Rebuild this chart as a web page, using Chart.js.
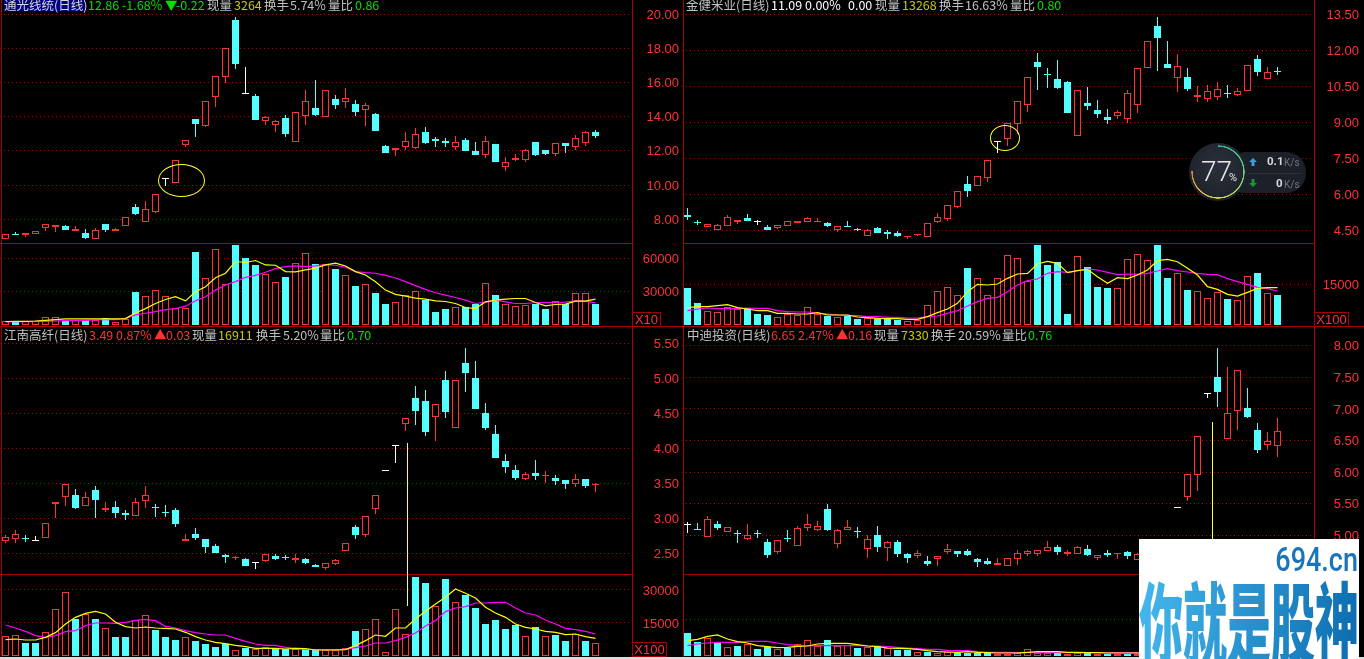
<!DOCTYPE html>
<html>
<head>
<meta charset="utf-8">
<script src="https://cdn.jsdelivr.net/npm/chart.js@4/dist/chart.umd.js"></script>
<style>
html, body { margin: 0; padding: 0; background: #000; width: 1364px; height: 659px; overflow: hidden; }
canvas { position: absolute; display: block; }
.line { position: absolute; background: #a80000; }
.hdr { position: absolute; font: 12.5px/13px "Noto Sans CJK SC", sans-serif; white-space: nowrap; }
.box { position: absolute; border: 1px solid #a80000; color: #ff3232; font: 13px/13px "Liberation Sans", sans-serif; box-sizing: border-box; text-align: center; }
.ring { position: absolute; border: 1px solid #ffff30; border-radius: 50%; box-sizing: border-box; }
.mark { position: absolute; width: 1px; background: #ffff40; }
</style>
</head>
<body>
<script>
// colours used by the trading screen
const RED = '#ff3232', CYAN = '#54ffff', WHITE = '#ffffff', YELLOW = '#ffff00', PINK = '#ff00ff';
const GRID = '#c00000', GRAY = '#c0c0c0', GOLD = '#c8c800', GREEN = '#00e000';

// 通光线缆
const p1Open = [6.87,7.09,7.05,7.11,7.46,7.54,7.60,7.34,7.21,6.87,7.73,7.30,7.58,8.73,7.81,8.40,10.38,10.09,12.37,13.87,13.48,15.12,16.29,19.66,15.35,15.22,13.77,13.54,13.93,12.49,14.06,14.51,13.95,15.04,14.83,14.75,14.36,14.16,12.29,12.02,12.24,12.18,13.11,12.70,12.59,12.24,12.64,12.00,11.73,12.41,11.03,11.47,11.47,12.53,12.06,11.79,12.47,12.24,12.43,13.11];
const p1Close = [7.13,7.05,7.19,7.30,7.71,7.65,7.38,7.42,6.91,7.36,7.38,7.42,8.12,8.32,8.59,9.47,10.38,11.46,12.62,13.58,14.90,16.37,18.00,17.09,15.35,13.81,13.97,13.74,13.00,14.26,14.90,14.10,15.55,14.69,15.08,14.28,14.67,13.17,11.88,12.16,12.57,12.98,12.47,12.59,12.47,12.51,12.00,11.77,12.57,11.36,11.34,11.59,12.04,11.77,11.83,12.45,12.29,12.74,13.09,12.88];
const p1High = [7.13,7.25,7.19,7.30,7.71,7.65,7.65,7.62,7.44,7.48,7.73,7.50,8.12,8.90,9.08,9.47,10.38,11.46,12.62,13.87,14.90,16.37,18.00,19.82,16.89,15.33,14.05,13.81,14.11,14.26,15.57,16.15,15.55,15.28,15.68,14.98,14.81,14.22,12.35,12.16,13.11,13.35,13.40,12.82,12.76,12.88,12.76,12.53,12.88,12.41,11.65,11.83,12.12,12.53,12.06,12.45,12.47,12.94,13.17,13.23];
const p1Low = [6.87,7.05,6.99,7.11,7.34,7.23,7.38,7.34,6.86,6.87,7.27,7.30,7.58,8.26,7.81,8.34,9.97,10.09,12.20,12.82,13.40,14.57,15.96,16.80,15.35,13.81,13.52,13.11,12.82,12.49,13.52,14.05,13.95,14.46,14.51,14.05,13.46,13.17,11.88,11.71,12.06,12.12,12.41,12.24,12.24,12.06,12.00,11.77,11.59,11.36,10.83,11.42,11.36,11.71,11.77,11.71,11.88,12.06,12.29,12.76];
const p1Vol = [3900,2700,3900,3300,7600,7600,3900,4800,4800,4800,6700,3000,5800,29700,25800,31200,25800,15200,15200,66100,42100,68500,36700,72400,60600,54200,45800,38500,43300,55800,64800,55100,55100,50600,44800,35100,36700,28800,18800,21200,27000,30300,22400,11500,14200,15800,15800,18800,37600,27000,19400,16700,17600,19400,14200,22100,18800,28500,28500,19400];
const p1Ma5 = [3000,3300,3300,3600,4200,4800,5500,5500,5500,5500,5500,5500,5800,10900,14800,19400,23000,25500,21800,30000,34500,42700,46700,57300,56400,58200,54200,53900,48200,47900,49700,51200,54200,55800,53300,48200,45100,39100,31500,27600,26100,24200,23300,21800,21200,19400,15800,14800,20900,22400,23300,23900,23900,20300,17300,18500,18800,21500,21500,23300];
const p1Ma10 = [3000,3000,3000,3300,3300,3600,3900,3900,4200,4500,4800,4800,5800,9100,10600,12100,13900,14800,17000,21800,25500,31500,36100,39100,43000,44800,47600,50900,52700,53300,52700,53300,54500,53900,52100,48200,47300,46700,44800,42400,39100,35500,32100,29100,27000,24800,22400,19400,20600,22400,20900,19400,19400,20300,20300,20300,20600,21800,21500,20000];
const p1PriceTicks = [20,18,16,14,12,10,8];
const p1VolTicks = [60000,30000];

// 金健米业
const p2Open = [5.14,4.83,4.65,4.53,4.69,4.86,5.01,4.83,4.64,4.61,4.69,4.81,4.86,4.86,4.81,4.53,4.68,4.56,4.28,4.60,4.43,4.39,4.24,4.31,4.24,4.86,4.99,5.49,6.43,6.36,6.70,8.17,8.32,8.92,9.74,11.52,11.01,10.81,10.67,8.45,9.81,9.52,9.22,9.28,9.15,9.74,11.28,13.02,11.43,10.86,10.88,10.04,9.99,10.06,10.23,10.14,10.32,11.64,10.82,11.14];
const p2Close = [5.06,4.79,4.75,4.71,5.04,4.93,4.89,4.83,4.51,4.71,4.87,4.87,5.00,4.89,4.68,4.67,4.65,4.53,4.50,4.39,4.35,4.27,4.27,4.35,4.79,5.04,5.54,6.12,6.14,6.75,7.42,8.17,8.96,9.87,10.88,11.31,10.96,10.43,9.39,10.34,9.68,9.35,9.10,9.42,10.21,11.25,12.38,12.52,11.27,11.34,10.39,10.13,10.29,10.38,10.18,10.32,11.38,11.10,11.10,11.11];
const p2High = [5.43,4.93,4.75,4.75,5.14,4.93,5.18,4.93,4.72,4.71,4.87,4.87,5.06,5.01,4.85,4.67,4.89,4.60,4.56,4.64,4.51,4.47,4.27,4.35,4.79,5.22,5.54,6.12,6.77,6.75,7.42,8.17,8.96,9.87,10.88,11.89,11.27,11.60,10.72,10.34,10.47,9.93,9.56,9.52,10.35,11.25,12.38,13.39,12.39,11.85,11.27,10.52,10.56,10.68,10.56,10.43,11.38,11.81,11.31,11.31];
const p2Low = [4.93,4.72,4.65,4.53,4.69,4.76,4.89,4.72,4.51,4.56,4.69,4.81,4.86,4.86,4.64,4.43,4.65,4.47,4.28,4.39,4.14,4.22,4.14,4.27,4.24,4.81,4.89,5.43,5.89,6.36,6.52,7.72,8.02,8.52,9.43,10.35,10.43,10.39,9.39,8.45,9.52,9.18,8.93,9.14,8.97,9.39,11.28,11.14,11.27,10.27,10.30,9.85,9.85,9.93,10.02,10.10,10.32,10.93,10.82,10.97];
const p2Vol = [13650,8120,5040,4670,6520,5780,6400,4060,3690,2830,4180,3690,6520,4060,3320,2830,3320,2210,2460,2340,2340,1850,1600,1720,7260,12420,13900,10950,21030,17220,10950,17220,25710,24600,16110,29520,22140,23250,4060,25340,21400,14020,13650,13530,24230,26080,23860,29520,17340,19070,12920,12420,9840,12050,9590,9100,17960,19190,11690,11070];
const p2Ma5 = [6400,6770,6770,7130,7500,6400,5900,5290,5290,4300,4300,4060,4060,4550,3690,3690,3690,2950,2710,2460,2340,2340,2090,2090,3080,4550,5900,8000,12300,15010,14760,15130,17220,18820,19070,22510,23490,22760,19310,20050,20540,17840,15380,17470,17100,18450,20300,23740,24230,23370,20910,18450,14150,13160,11320,10700,12050,13530,13780,13780];
const p2Ma10 = [5290,5900,6270,6030,6030,6030,6270,6150,6150,5290,4920,4800,4800,4430,4060,3690,3570,3440,3080,3080,2830,2830,2580,2580,3080,3320,4300,5290,7010,8610,9840,10210,12300,14760,16360,16970,19070,19680,19430,20050,20660,20300,19430,18570,18820,18700,19070,19930,20790,20050,19560,19070,18700,18570,17100,15990,15010,13900,13410,12550];
const p2PriceTicks = [13.5,12,10.5,9,7.5,6,4.5];
const p2VolTicks = [15000];

// 江南高纤
const p3Open = [2.67,2.70,2.72,2.67,2.72,3.20,3.30,3.33,3.17,3.40,3.12,3.16,3.08,3.04,3.25,3.16,3.09,3.12,2.67,2.78,2.71,2.60,2.47,2.43,2.42,2.36,2.39,2.46,2.45,2.40,2.42,2.33,2.29,2.35,2.53,2.88,2.76,3.13,3.67,4.04,4.35,4.72,4.68,4.45,4.98,4.29,5.22,5.00,4.50,4.20,3.82,3.69,3.56,3.65,3.60,3.58,3.55,3.49,3.56,3.47];
const p3Close = [2.73,2.77,2.71,2.67,2.94,3.24,3.49,3.15,3.31,3.26,3.15,3.08,3.05,3.24,3.34,3.15,3.08,2.92,2.70,2.72,2.59,2.50,2.44,2.45,2.32,2.36,2.49,2.42,2.43,2.43,2.36,2.31,2.36,2.40,2.64,2.76,3.04,3.34,3.67,4.04,4.44,4.53,4.23,4.64,4.52,4.97,5.08,4.56,4.29,3.86,3.73,3.58,3.63,3.61,3.62,3.53,3.49,3.56,3.46,3.49];
const p3High = [2.76,2.83,2.76,2.74,2.94,3.24,3.49,3.42,3.38,3.46,3.23,3.25,3.12,3.29,3.46,3.20,3.19,3.15,2.78,2.86,2.71,2.63,2.49,2.46,2.43,2.36,2.49,2.49,2.48,2.49,2.43,2.35,2.36,2.42,2.64,2.90,3.04,3.34,3.67,4.04,4.44,4.89,4.83,4.64,5.10,4.97,5.43,5.25,4.65,4.33,3.92,3.76,3.66,3.83,3.68,3.62,3.55,3.63,3.56,3.50];
const p3Low = [2.64,2.65,2.66,2.67,2.72,3.00,3.18,3.13,3.17,3.00,3.09,3.00,2.98,3.04,3.15,3.02,3.02,2.88,2.67,2.69,2.50,2.50,2.36,2.40,2.32,2.28,2.38,2.40,2.40,2.36,2.35,2.31,2.26,2.33,2.53,2.70,2.73,3.06,3.67,3.79,4.25,4.33,4.18,4.10,4.43,4.29,4.81,4.56,4.26,3.86,3.65,3.55,3.55,3.55,3.51,3.48,3.42,3.45,3.43,3.38];
const p3Vol = [9240,9700,6060,6060,11060,21510,29240,16970,19240,16970,12880,8790,8790,16510,18790,11970,8790,7420,8790,6970,5610,4240,5610,2880,3790,3330,4240,3790,3330,3330,3330,2880,2880,2880,3790,11510,12420,16970,1970,21510,10150,36060,33330,22880,35150,24700,27880,21970,14700,16510,12420,14240,9240,13330,9240,9700,6970,10150,6970,6060];
const p3Ma5 = [7420,7730,7270,7270,8480,10610,14540,17570,19390,20300,19090,15300,13330,12730,13180,12730,12570,12270,10760,8790,7270,6210,5610,4850,4240,3480,3480,3480,3180,3480,3330,2730,2730,2730,2880,4700,6970,9540,8940,12730,12730,16820,20300,23630,26660,30450,28480,26360,22120,19540,17570,14540,13030,12270,11210,10760,9700,10000,8790,8030];
const p3Ma10 = [14090,12730,11210,9240,8480,9240,11060,11510,13790,15000,15000,14850,15300,16210,16670,16060,13480,12730,11510,10610,10000,9540,9540,8030,6670,5450,4850,4850,3940,3480,3030,2880,2880,2880,3030,3790,4550,5910,5910,6970,8480,10450,13640,16060,20150,21820,22420,24090,24090,24390,24390,21820,19540,18630,16360,14540,12570,11970,11210,10000];
const p3PriceTicks = [5.5,5,4.5,4,3.5,3,2.5];
const p3VolTicks = [30000,15000];

// 中迪投资
const p4Open = [5.16,5.09,4.98,5.18,5.05,5.04,4.95,5.03,4.90,4.73,4.95,4.84,5.11,5.09,5.42,4.87,5.08,5.06,4.78,5.00,4.80,4.90,4.71,4.67,4.60,4.62,4.73,4.76,4.76,4.63,4.60,4.53,4.51,4.63,4.70,4.71,4.76,4.82,4.71,4.70,4.79,4.65,4.72,4.70,4.73,4.61,4.70,4.75,4.80,5.43,5.60,5.96,7.23,7.51,6.53,6.97,7.01,6.67,6.43,6.41];
const p4Close = [5.16,5.08,5.26,5.12,5.13,5.03,5.00,5.02,4.69,4.92,4.94,5.11,5.18,5.15,5.09,5.08,5.13,5.05,4.94,4.82,4.89,4.71,4.64,4.72,4.55,4.67,4.78,4.71,4.69,4.58,4.55,4.57,4.64,4.72,4.75,4.77,4.82,4.74,4.74,4.82,4.69,4.69,4.69,4.72,4.68,4.70,4.75,4.80,4.94,5.43,5.97,6.57,7.23,7.27,6.93,7.62,6.87,6.35,6.49,6.65];
const p4High = [5.22,5.20,5.30,5.23,5.13,5.09,5.18,5.09,4.94,4.92,5.09,5.15,5.34,5.23,5.50,5.10,5.25,5.13,5.00,5.15,4.91,4.93,4.72,4.77,4.68,4.67,4.87,4.76,4.79,4.64,4.64,4.64,4.64,4.77,4.77,4.77,4.91,4.85,4.77,4.83,4.85,4.69,4.77,4.72,4.75,4.72,4.78,4.84,4.94,5.43,5.97,6.57,7.23,7.97,7.67,7.62,7.33,6.78,6.64,6.86];
const p4Low = [5.04,5.08,4.98,5.09,5.05,4.88,4.93,4.96,4.64,4.71,4.90,4.84,5.07,5.07,5.07,4.80,5.08,4.96,4.64,4.74,4.60,4.66,4.57,4.64,4.52,4.52,4.71,4.66,4.68,4.50,4.53,4.53,4.51,4.53,4.67,4.68,4.76,4.69,4.68,4.70,4.68,4.61,4.66,4.63,4.63,4.61,4.68,4.72,4.78,5.43,5.54,5.71,7.17,7.03,6.53,6.67,6.86,6.31,6.35,6.24];
const p4Vol = [9410,5730,7500,5320,3550,4090,4910,2860,3680,3000,3410,4770,6410,4090,6550,4090,4640,3140,3550,3960,3140,2460,2460,1500,1640,1230,1640,1230,1230,1230,1090,950,820,1090,2730,1230,1360,1090,820,1230,1090,680,680,820,820,820,900,1000,1100,700,9000,15000,3000,22000,26000,24000,13000,12000,8000,7330];
const p4Ma5 = [6270,6820,8050,8590,6960,5870,5320,4230,3820,3410,3550,3960,4090,4910,5180,5180,5180,4640,4090,3820,3270,3140,3000,2730,2180,1770,1640,1500,1770,1500,1360,1230,1230,1230,1500,1770,1770,1770,1500,1500,1360,1360,1230,1230,1230,1230,1000,900,900,1000,2500,5500,6000,10000,15000,18000,17600,19000,17000,13500];
const p4Ma10 = [4230,4910,5320,5590,5590,5590,6000,6000,6000,5320,4640,4230,4230,4230,4230,4230,4230,4230,4090,4090,3820,3550,3270,3000,2730,2730,2320,2180,2180,1770,1500,1500,1500,1360,1360,1360,1360,1360,1360,1360,1360,1360,1360,1360,1360,1360,1200,1100,1100,1100,1800,3200,3500,5500,8000,10000,11000,12500,13500,14500];
const p4PriceTicks = [8,7.5,7,6.5,6,5.5,5];
const p4VolTicks = [15000];

// header texts: text, left edge, colour
const head1 = [['通光线统(日线)',4,'#d8d8d8'],['12.86',88,GREEN],['-1.68%',122,GREEN],['▼',165,GREEN],['-0.22',176,GREEN],['现量',207,GRAY],['3264',234,GOLD],['换手',264,GRAY],['5.74%',290,GRAY],['量比',328,GRAY],['0.86',355,GREEN]];
const head2 = [['金健米业(日线)',686,GRAY],['11.09',771,WHITE],['0.00%',805,WHITE],['0.00',848,WHITE],['现量',875,GRAY],['13268',902,GOLD],['换手',939,GRAY],['16.63%',965,GRAY],['量比',1010,GRAY],['0.80',1037,GREEN]];
const head3 = [['江南高纤(日线)',4,GRAY],['3.49',89,RED],['0.87%',116,RED],['▲',154,RED],['0.03',166,RED],['现量',192,GRAY],['16911',218,GOLD],['换手',256,GRAY],['5.20%',283,GRAY],['量比',320,GRAY],['0.70',347,GREEN]];
const head4 = [['中迪投资(日线)',687,GRAY],['6.65',771,RED],['2.47%',798,RED],['▲',836,RED],['0.16',848,RED],['现量',874,GRAY],['7330',901,GOLD],['换手',931,GRAY],['20.59%',958,GRAY],['量比',1002,GRAY],['0.76',1028,GREEN]];

// round bar edges so the candles stay one pixel sharp like the original
const snapBars = {
    id: 'snapBars',
    afterDatasetsUpdate(chart) {
        chart.getSortedVisibleDatasetMetas().forEach(meta => {
            if (meta.type !== 'bar') return;
            meta.data.forEach(el => {
                el.y = Math.round(el.y);
                el.base = Math.round(el.base);
                if (el.y === el.base) el.y = el.base - 1;
            });
        });
    }
};

function addCanvas(left, top, width, height) {
    const c = document.createElement('canvas');
    c.width = width;
    c.height = height;
    c.style.left = left + 'px';
    c.style.top = top + 'px';
    c.style.width = width + 'px';
    c.style.height = height + 'px';
    document.body.appendChild(c);
    return c;
}

function scaleOptions(o) {
    return {
        x: { type: 'linear', display: false, offset: false, min: -0.5, max: 62.7 },
        y: {
            position: 'right',
            min: o.min,
            max: o.max,
            grid: { color: GRID, drawTicks: false, lineWidth: 1 },
            // the chart area starts on a half pixel, the offset keeps the dots whole
            border: { display: false, dash: [1, 3], dashOffset: 0.5 },
            ticks: {
                color: RED,
                autoSkip: false,
                padding: 0,
                labelOffset: 1,
                crossAlign: 'far',
                font: { family: 'Liberation Sans', size: 13 },
                callback: o.format
            },
            afterBuildTicks(s) { s.ticks = o.ticks.map(v => ({ value: v })); },
            afterFit(s) { s.width = o.axisWidth; s.paddingTop = 0; s.paddingBottom = 0; }
        }
    };
}

function commonOptions(o) {
    return {
        responsive: false,
        animation: false,
        devicePixelRatio: 1,
        events: [],
        layout: { padding: { left: 0.5, top: o.padTop, right: 0, bottom: 0 } },
        plugins: { legend: { display: false }, tooltip: { enabled: false } },
        scales: scaleOptions(o)
    };
}

function candleChart(canvas, o) {
    const tone = o.open.map((v, i) => o.close[i] > v ? RED : o.close[i] < v ? CYAN : WHITE);
    new Chart(canvas, {
        type: 'bar',
        data: {
            labels: o.open.map((_, i) => i),
            datasets: [
                {
                    label: 'body',
                    data: o.open.map((v, i) => [v, o.close[i]]),
                    grouped: false,
                    order: 0,
                    barThickness: 7,
                    minBarLength: 1,
                    inflateAmount: 0,
                    borderWidth: 1,
                    borderSkipped: false,
                    borderColor: tone,
                    backgroundColor: tone.map(c => c === RED ? '#000' : c)
                },
                {
                    label: 'wick',
                    data: o.low.map((v, i) => [v, o.high[i]]),
                    grouped: false,
                    order: 1,
                    barThickness: 1,
                    inflateAmount: 0,
                    borderWidth: 0,
                    backgroundColor: tone
                }
            ]
        },
        options: commonOptions({ ...o, format: v => v.toFixed(2) }),
        plugins: [snapBars]
    });
}

function volumeChart(canvas, o) {
    // flat candles take their colour from the move against the day before
    const up = o.open.map((v, i) => {
        if (o.close[i] !== v) return o.close[i] > v;
        return i > 0 && o.close[i] > o.close[i - 1];
    });
    const labels = o.vol.map((_, i) => i);
    const maLine = (label, data, color) => ({
        type: 'line', label, data, order: 0, borderColor: color, borderWidth: 1.2, pointRadius: 0, tension: 0, fill: false
    });
    new Chart(canvas, {
        type: 'bar',
        data: {
            labels,
            datasets: [
                maLine('MA5', o.ma5, YELLOW),
                maLine('MA10', o.ma10, PINK),
                {
                    label: 'vol',
                    data: o.vol,
                    grouped: false,
                    order: 1,
                    barThickness: 7,
                    inflateAmount: 0,
                    borderWidth: 1,
                    borderSkipped: false,
                    borderColor: up.map(u => u ? RED : CYAN),
                    backgroundColor: up.map(u => u ? '#000' : CYAN)
                }
            ]
        },
        options: commonOptions({ ...o, min: 0, padTop: 0, format: v => String(v) }),
        plugins: [snapBars]
    });
}

// price and volume panes of the four quadrants
candleChart(addCanvas(0, 0, 679, 243), { open: p1Open, high: p1High, low: p1Low, close: p1Close, ticks: p1PriceTicks, min: 6.61, max: 20.12, padTop: 12, axisWidth: 46.5 });
volumeChart(addCanvas(0, 244, 679, 81), { open: p1Open, close: p1Close, vol: p1Vol, ma5: p1Ma5, ma10: p1Ma10, ticks: p1VolTicks, max: 73100, axisWidth: 46.5 });
candleChart(addCanvas(682, 0, 677, 243), { open: p2Open, high: p2High, low: p2Low, close: p2Close, ticks: p2PriceTicks, min: 3.97, max: 13.6, padTop: 12, axisWidth: 44.5 });
volumeChart(addCanvas(682, 244, 677, 81), { open: p2Open, close: p2Close, vol: p2Vol, ma5: p2Ma5, ma10: p2Ma10, ticks: p2VolTicks, max: 29900, axisWidth: 44.5 });
candleChart(addCanvas(0, 328, 679, 246), { open: p3Open, high: p3High, low: p3Low, close: p3Close, ticks: p3PriceTicks, min: 2.204, max: 5.72, padTop: 0, axisWidth: 46.5 });
volumeChart(addCanvas(0, 575, 679, 81), { open: p3Open, close: p3Close, vol: p3Vol, ma5: p3Ma5, ma10: p3Ma10, ticks: p3VolTicks, max: 36800, axisWidth: 46.5 });
candleChart(addCanvas(682, 328, 677, 246), { open: p4Open, high: p4High, low: p4Low, close: p4Close, ticks: p4PriceTicks, min: 4.39, max: 8.28, padTop: 0, axisWidth: 44.5 });
volumeChart(addCanvas(682, 575, 677, 81), { open: p4Open, close: p4Close, vol: p4Vol, ma5: p4Ma5, ma10: p4Ma10, ticks: p4VolTicks, max: 33100, axisWidth: 44.5 });

function addEl(cls, css, html) {
    const d = document.createElement('div');
    d.className = cls;
    d.style.cssText = css;
    if (html) d.innerHTML = html;
    document.body.appendChild(d);
    return d;
}

// frame lines
[1, 632, 683, 1314].forEach(x => addEl('line', `left:${x}px;top:0;width:1px;height:657px`));
[[243, 0, 632], [574, 0, 632], [243, 683, 632], [574, 683, 632]].forEach(r => addEl('line', `left:${r[1]}px;top:${r[0]}px;width:${r[2]}px;height:1px`));
addEl('line', 'left:0;top:326px;width:1364px;height:1px');
addEl('', 'position:absolute;left:0;top:657px;width:1364px;height:2px;background:#dcdcdc');

// headers
addEl('', 'position:absolute;left:4px;top:0;width:81px;height:11px;background:#000080');
[[head1, -2], [head2, -2], [head3, 328], [head4, 328]].forEach(([items, top]) => {
    items.forEach(([text, x, color]) => {
        addEl('hdr', `left:${x}px;top:${top}px;color:${color}`, text);
    });
});

// scale boxes
addEl('box', 'left:632px;top:312px;width:29px;height:15px', 'X10');
addEl('box', 'left:1314px;top:312px;width:35px;height:15px', 'X100');
addEl('box', 'left:632px;top:642px;width:35px;height:15px', 'X100');

// hand drawn circles and the two long marker strokes
addEl('ring', 'left:158px;top:164px;width:47px;height:33px');
addEl('ring', 'left:990px;top:125px;width:30px;height:26px');
addEl('mark', 'left:407px;top:443px;height:163px');
addEl('mark', 'left:1212px;top:422px;height:170px');

// network speed widget of the desktop
addEl('', 'position:absolute;left:1225px;top:152px;width:81px;height:41px;border-radius:20px;background:#1c2028');
addEl('', 'position:absolute;left:1240px;top:173px;width:62px;height:1px;background:#2c313a');
addEl('', 'position:absolute;left:1189px;top:143px;width:58px;height:58px;border-radius:50%;background:radial-gradient(circle at 50% 40%,#2b313c,#181c24)');
addEl('', 'position:absolute;left:1191px;top:145px;width:54px;height:54px;border-radius:50%;background:conic-gradient(#2fb5a0 0deg,#6fcf80 90deg,#d8d058 180deg,#d9893a 272deg,transparent 272deg);-webkit-mask:radial-gradient(circle,transparent 25px,#000 25.5px,#000 26.5px,transparent 27px)');
addEl('', 'position:absolute;left:1201px;top:157px;font:300 28px/30px Roboto,sans-serif;color:#e8e8e8', '77');
addEl('', 'position:absolute;left:1229px;top:172px;font:11px/12px Roboto,sans-serif;color:#e8e8e8', '%');
addEl('', 'position:absolute;left:1248px;top:157px', '<svg width="10" height="10" style="display:block"><path d="M5 1L9 5H6.5V9H3.5V5H1Z" fill="#3a9edb"/></svg>');
addEl('', 'position:absolute;left:1248px;top:178px', '<svg width="10" height="10" style="display:block"><path d="M5 9L9 5H6.5V1H3.5V5H1Z" fill="#1f8f3a"/></svg>');
addEl('', 'position:absolute;left:1267px;top:155px;font:bold 11.5px/13px Roboto,sans-serif;color:#d8d8d8', '0.1');
addEl('', 'position:absolute;left:1284px;top:156px;font:10px/13px Roboto,sans-serif;color:#70767f', 'K/s');
addEl('', 'position:absolute;left:1276px;top:177px;font:bold 11.5px/13px Roboto,sans-serif;color:#d8d8d8', '0');
addEl('', 'position:absolute;left:1284px;top:178px;font:10px/13px Roboto,sans-serif;color:#70767f', 'K/s');

// site stamp in the corner
addEl('', 'position:absolute;left:1139px;top:539px;width:220px;height:120px;background:#fff;overflow:hidden',
    '<div style="position:absolute;right:1px;top:3px;font:500 27px/28px Roboto,sans-serif;color:#1a75b8;transform:scaleY(1.25);transform-origin:100% 0">694.cn</div>' +
    '<div style="position:absolute;left:0;top:35px;width:220px;font:900 44px/44px \'Noto Sans CJK SC\',sans-serif;white-space:nowrap;transform:scaleY(2.05);transform-origin:0 0;background:linear-gradient(100deg,#45b8ec,#0b6cb0);-webkit-background-clip:text;background-clip:text;color:transparent">你就是股神</div>');
</script>
</body>
</html>
